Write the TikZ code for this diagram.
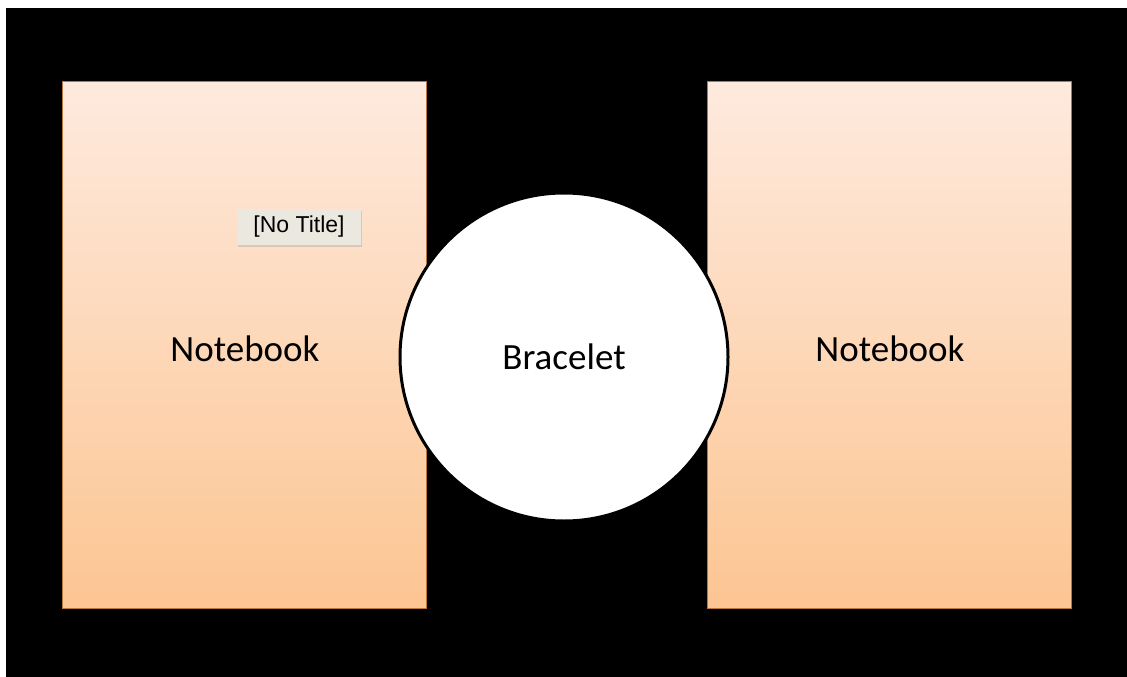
\documentclass[tikz,border=0pt]{standalone}
\usepackage{fontspec}
\setmainfont{Carlito}
\newfontfamily\tagfont{Liberation Sans}
\usetikzlibrary{shadows}
\definecolor{peachtop}{HTML}{FEEADE}
\definecolor{peachbottom}{HTML}{FCC592}
\definecolor{peachedge}{HTML}{B8773F}
\definecolor{tagfill}{HTML}{EAE8DF}
\tikzset{
  page/.style={
    fill=black,
  },
  bigtext/.style={
    font=\fontsize{37}{44}\selectfont,
  },
  notebook/.style={
    rectangle,
    draw=peachedge,
    line width=1.5pt,
    top color=peachtop,
    bottom color=peachbottom,
    minimum width=364pt,
    minimum height=527pt,
    inner sep=0pt,
  },
  bracelet/.style={
    circle,
    draw=black,
    line width=3pt,
    fill=white,
    minimum size=328pt,
    inner sep=0pt,
    bigtext,
  },
  titletag/.style={
    rectangle,
    fill=tagfill,
    minimum width=124pt,
    minimum height=36pt,
    inner sep=0pt,
    drop shadow={shadow xshift=1pt, shadow yshift=-1.5pt, opacity=0.25},
    font=\tagfont\fontsize{23}{27}\selectfont,
  },
}
\begin{document}
\begin{tikzpicture}[x=1pt,y=-1pt]
  \fill[white] (0,0) rectangle (1127,677);
  \useasboundingbox (0,0) rectangle (1127,677);
  \fill[page] (6,8) rectangle (1127,677);

  % two notebooks with the bracelet between them
  \node[notebook] (left) at (244.5,345) {};
  \node[notebook] (right) at (889.5,345) {};
  \node[bigtext] (leftlabel) at (245,349) {Notebook};
  \node[bigtext] (rightlabel) at (890,349) {Notebook};
  \node[bracelet] (bracelet) at (564,357) {Bracelet};

  \node[titletag] (notitle) at (299,227) {[No Title]};
\end{tikzpicture}
\end{document}
